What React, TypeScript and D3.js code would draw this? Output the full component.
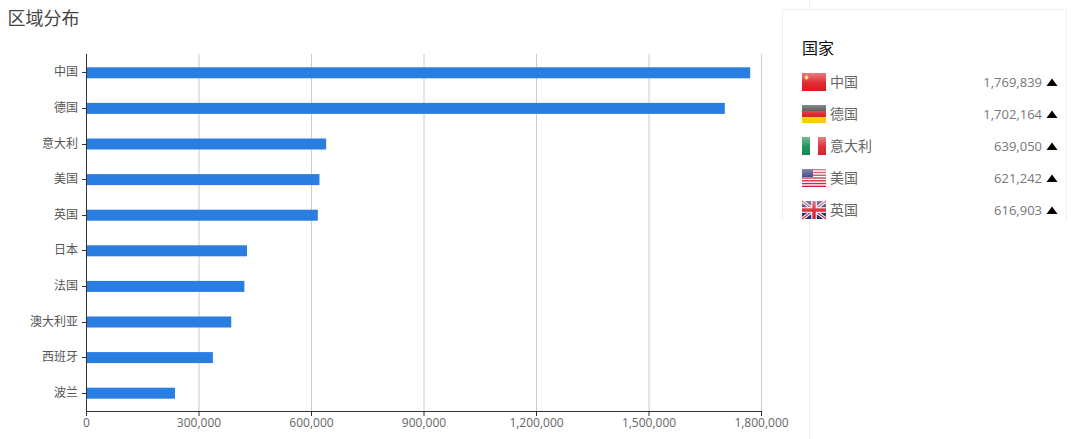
import * as d3 from 'd3';

const countries = ['中国', '德国', '意大利', '美国', '英国', '日本', '法国', '澳大利亚', '西班牙', '波兰'];
const visits = [1769839, 1702164, 639050, 621242, 616903, 428000, 421000, 386000, 337000, 236000];
const xTicks = [0, 300000, 600000, 900000, 1200000, 1500000, 1800000];
const flagCodes = ['cn', 'de', 'it', 'us', 'gb'];

const sans = '"Open Sans", "Noto Sans CJK SC", sans-serif';
const cjk = '"Noto Sans CJK SC", "Open Sans", sans-serif';

const x = d3.scaleLinear().domain([0, 1800000]).range([86.5, 761.5]);
const y = d3.scaleBand<string>().domain(countries).range([55, 411]);
const rowY = d3.scalePoint<string>().domain(countries.slice(0, 5)).range([82, 210]);
const fmt = d3.format(',');

function Flag({ code }: { code: string }) {
  // 24x18 flags, glossy overlay goes on top
  const w = 24;
  const h = 18;
  let body = null;
  if (code === 'cn') {
    body = (
      <g>
        <rect width={w} height={h} fill="#de1a22" />
        <circle cx={4.5} cy={4.5} r={2} fill="#f8d84a" />
      </g>
    );
  } else if (code === 'de') {
    body = (
      <g>
        <rect width={w} height={6} fill="#333" />
        <rect y={6} width={w} height={6} fill="#d8141a" />
        <rect y={12} width={w} height={6} fill="#fbcb0a" />
      </g>
    );
  } else if (code === 'it') {
    body = (
      <g>
        <rect width={8} height={h} fill="#0f8a4c" />
        <rect x={8} width={8} height={h} fill="#fff" />
        <rect x={16} width={8} height={h} fill="#d9202c" />
      </g>
    );
  } else if (code === 'us') {
    body = (
      <g>
        <rect width={w} height={h} fill="#fff" />
        {d3.range(0, 7).map(i => (
          <rect key={i} y={i * 2.77} width={w} height={1.38} fill="#c8223a" />
        ))}
        <rect width={11} height={8} fill="#2c2f78" />
      </g>
    );
  } else {
    body = (
      <g>
        <rect width={w} height={h} fill="#1c2a78" />
        <path d={`M0,0L${w},${h}M${w},0L0,${h}`} stroke="#fff" strokeWidth={3.4} />
        <path d={`M0,0L${w},${h}M${w},0L0,${h}`} stroke="#d3202f" strokeWidth={1.2} />
        <path d={`M${w / 2},0V${h}M0,${h / 2}H${w}`} stroke="#fff" strokeWidth={5.6} />
        <path d={`M${w / 2},0V${h}M0,${h / 2}H${w}`} stroke="#d3202f" strokeWidth={3.4} />
      </g>
    );
  }
  return (
    <g>
      {body}
      <rect width={w} height={h} fill="url(#gloss)" />
    </g>
  );
}

export default function App() {
  const legendRows = countries.slice(0, 5);
  return (
    <svg
      width={1071}
      height={439}
      style={{ position: 'absolute', left: 0, top: 0, background: '#fff' }}
    >
      <defs>
        <linearGradient id="gloss" x1="0" y1="0" x2="0" y2="1">
          <stop offset="0%" stopColor="#fff" stopOpacity={0.42} />
          <stop offset="55%" stopColor="#fff" stopOpacity={0.08} />
          <stop offset="100%" stopColor="#fff" stopOpacity={0} />
        </linearGradient>
        <clipPath id="cardClip">
          <rect x={781} y={9} width={286} height={211} />
        </clipPath>
      </defs>

      <text x={7.5} y={25} fontFamily={cjk} fontSize={18} fill="#444">区域分布</text>

      {/* page divider behind the card */}
      <path d="M809.5,0V9M809.5,220V439" stroke="#f0f0f0" fill="none" />

      {/* grid */}
      {xTicks.slice(1).map(t => (
        <line key={t} x1={x(t)} x2={x(t)} y1={54} y2={411} stroke="#ccc" />
      ))}

      {/* bars */}
      {countries.map((c, i) => (
        <rect
          key={c}
          x={x(0)}
          y={y(c)! + y.bandwidth() / 2 - 5.5}
          width={x(visits[i]) - x(0)}
          height={11}
          fill="#2a7de1"
        />
      ))}

      {/* y axis */}
      <line x1={86.5} x2={86.5} y1={54} y2={411.5} stroke="#333" />
      {countries.map(c => {
        const cy = Math.floor(y(c)! + y.bandwidth() / 2) + 0.5;
        return (
          <g key={c}>
            <line x1={82} x2={86} y1={cy} y2={cy} stroke="#333" />
            <text x={78} y={cy - 1} dy="0.35em" textAnchor="end" fontFamily={cjk} fontSize={12} fill="#555">{c}</text>
          </g>
        );
      })}

      {/* x axis */}
      <line x1={86} x2={762} y1={411.5} y2={411.5} stroke="#333" />
      {xTicks.map(t => (
        <g key={t}>
          <line x1={x(t)} x2={x(t)} y1={411} y2={416} stroke="#333" />
          <text x={x(t)} y={423} dy="0.35em" textAnchor="middle" fontFamily={sans} fontSize={12} fill="#666">{fmt(t)}</text>
        </g>
      ))}

      {/* legend card, cut off by its scroll area */}
      <path d="M782.5,220V9.5H1066.5V220" fill="none" stroke="#f0f0f0" />
      <g clipPath="url(#cardClip)">
        <text x={802} y={54} fontFamily={cjk} fontSize={16} fill="#111">国家</text>
        {legendRows.map((c, i) => {
          const ry = rowY(c)!;
          return (
            <g key={c}>
              <g transform={`translate(802,${ry - 9})`}>
                <Flag code={flagCodes[i]} />
              </g>
              <text x={830} y={ry} dy="0.35em" fontFamily={cjk} fontSize={14} fill="#666">{c}</text>
              <text x={1042} y={ry} dy="0.35em" textAnchor="end" fontFamily={sans} fontSize={13} fill="#777">{fmt(visits[i])}</text>
              <path d={`M1046.5,${ry + 4}L1052,${ry - 3.5}L1057.5,${ry + 4}Z`} fill="#000" />
            </g>
          );
        })}
      </g>
    </svg>
  );
}
